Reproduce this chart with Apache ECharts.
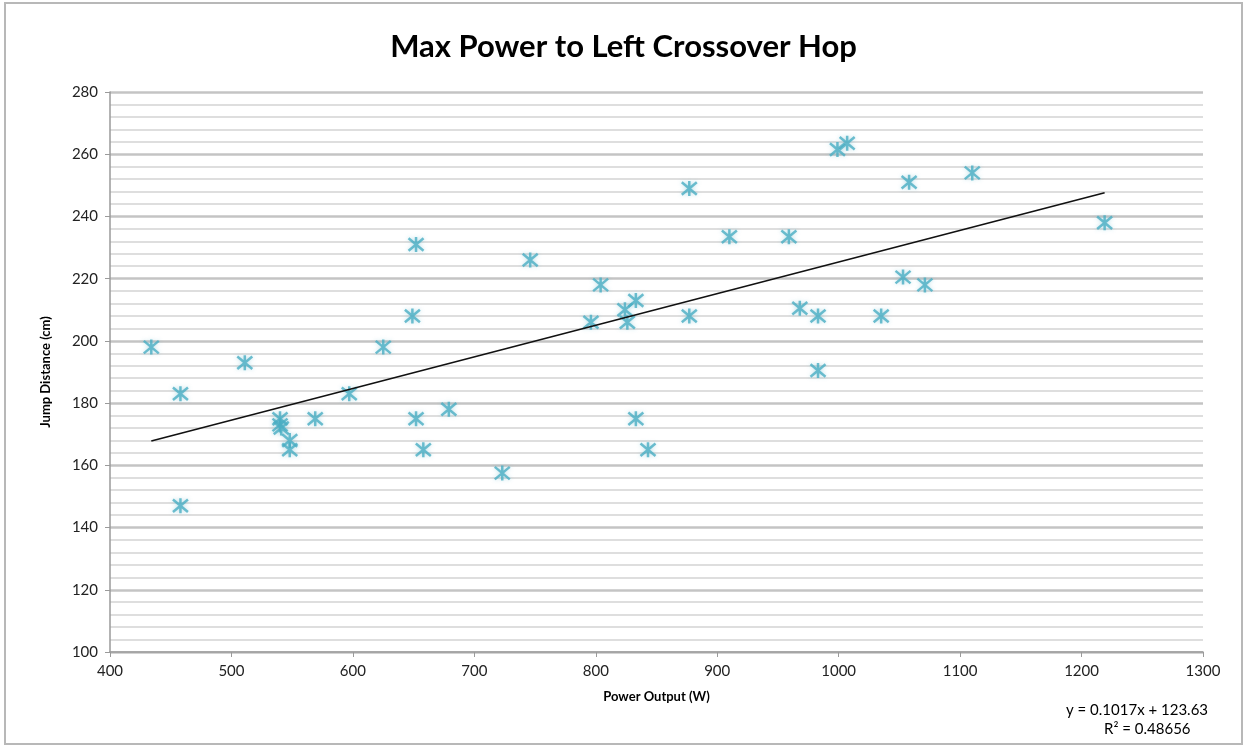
<!DOCTYPE html>
<html>
<head>
<meta charset="utf-8">
<script src="https://cdn.jsdelivr.net/npm/echarts@6/dist/echarts.min.js"></script>
<style>
  html, body { margin: 0; padding: 0; background: #fff; }
  #chart { width: 1247px; height: 748px; }
</style>
</head>
<body>
<div id="chart"></div>
<script>
// power output (W) and jump distance (cm)
let powerW = [434, 458, 458, 511, 540, 540, 541, 548, 548, 569, 597, 625, 649, 652, 652, 658, 679, 723, 746, 796, 804, 824, 826, 833, 833, 843, 877, 877, 910, 959, 968, 983, 983, 999, 1007, 1035, 1053, 1058, 1071, 1110, 1219];
let jumpCm = [198, 183, 147, 193, 175, 173, 172, 168, 165, 175, 183, 198, 208, 231, 175, 165, 178, 157.5, 226, 206, 218, 210, 206, 213, 175, 165, 249, 208, 233.5, 233.5, 210.5, 208, 190.5, 261.5, 263.5, 208, 220.5, 251, 218, 254, 238];
// linear trend line end points
let trendX = [434, 1219];
let trendY = [167.8, 247.6];
let titleText = 'Max Power to Left Crossover Hop';
let eqLines = ['y = 0.1017x + 123.63', 'R\u00b2 = 0.48656'];

let points = powerW.map((x, i) => [x, jumpCm[i]]);
let trend = trendX.map((x, i) => [x, trendY[i]]);

let chart = echarts.init(document.getElementById('chart'));
let font = 'Lato, "Open Sans", sans-serif';
let option = {
  animation: false,
  backgroundColor: '#fff',
  textStyle: { fontFamily: font },
  title: {
    text: titleText,
    left: 'center',
    top: 26,
    textStyle: { fontSize: 31, fontWeight: 'bold', color: '#000', fontFamily: font }
  },
  grid: { left: 110, right: 44, top: 92, bottom: 96 },
  xAxis: {
    type: 'value',
    min: 400,
    max: 1300,
    interval: 100,
    name: 'Power Output (W)',
    nameLocation: 'middle',
    nameGap: 38,
    nameTextStyle: { fontSize: 13, fontWeight: 'bold', color: '#000' },
    axisLine: { lineStyle: { color: '#9a9a9a', width: 1.5 } },
    axisTick: { show: true, length: 5, lineStyle: { color: '#9a9a9a' } },
    axisLabel: { fontSize: 15, color: '#222', margin: 12, formatter: v => String(v) },
    splitLine: { show: false }
  },
  yAxis: {
    type: 'value',
    min: 100,
    max: 280,
    interval: 20,
    name: 'Jump Distance (cm)',
    nameLocation: 'middle',
    nameGap: 58,
    nameTextStyle: { fontSize: 13, fontWeight: 'bold', color: '#000' },
    axisLine: { show: true, lineStyle: { color: '#9a9a9a', width: 1.5 } },
    axisTick: { show: true, length: 5, lineStyle: { color: '#9a9a9a' } },
    axisLabel: { fontSize: 15, color: '#222', margin: 12 },
    splitLine: { show: true, lineStyle: { color: '#c4c4c4', width: 2.5 } },
    minorTick: { show: false, splitNumber: 5 },
    minorSplitLine: { show: true, lineStyle: { color: '#dedede', width: 2 } }
  },
  series: [
    {
      type: 'scatter',
      data: points,
      symbol: 'path://M0,0 L10,10 M10,0 L0,10 M5,-1 L5,11',
      symbolSize: 15,
      itemStyle: {
        color: 'rgba(0,0,0,0)',
        borderColor: '#4aaec3',
        borderWidth: 2.5,
        shadowColor: 'rgba(75,172,198,0.45)',
        shadowBlur: 4
      },
      z: 3
    },
    {
      type: 'line',
      data: trend,
      symbol: 'none',
      lineStyle: { color: '#111', width: 1.6 },
      z: 4
    }
  ],
  graphic: [
    {
      type: 'rect',
      shape: { x: 5, y: 3, width: 1237, height: 741 },
      style: { fill: 'none', stroke: '#b8b8b8', lineWidth: 2 },
      z: -1
    },
    {
      type: 'text',
      left: 1066,
      top: 703,
      style: { text: eqLines[0], fontSize: 15, fill: '#000', fontFamily: font }
    },
    {
      type: 'text',
      left: 1104,
      top: 722,
      style: { text: eqLines[1], fontSize: 15, fill: '#000', fontFamily: font }
    }
  ]
};
chart.setOption(option);
</script>
</body>
</html>
